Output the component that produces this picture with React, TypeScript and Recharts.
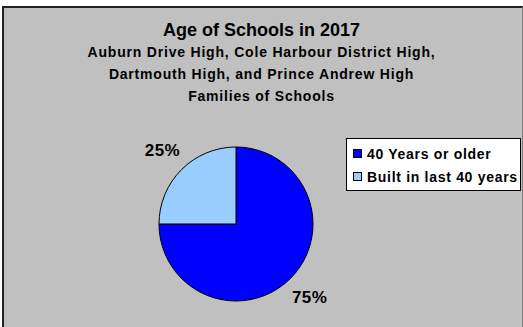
import { PieChart, Pie, Cell, Legend } from 'recharts';

const categories = ['40 Years or older', 'Built in last 40 years'];
const shares = [75, 25];
const colors = ['#0000ff', '#99ccff'];
const titleLines = [
  'Auburn Drive High, Cole Harbour District High,',
  'Dartmouth High, and Prince Andrew High',
  'Families of Schools',
];

const data = categories.map((name, i) => ({ name, value: shares[i] }));

const FONT = '"Liberation Sans", Arial, sans-serif';
const RAD = Math.PI / 180;

const renderLabel = (props: any) => {
  const { cx, cy, midAngle, outerRadius, value } = props;
  const r = outerRadius + 27;
  const x = cx + r * Math.cos(-midAngle * RAD);
  const y = cy + r * Math.sin(-midAngle * RAD);
  return (
    <text x={x} y={y} textAnchor="middle" dominantBaseline="central" fontFamily={FONT} fontWeight="bold" fontSize={17} letterSpacing={0.4} fill="#000">
      {value}%
    </text>
  );
};

const LegendBox = () => (
  <div style={{ background: '#fff', border: '1px solid #000', width: 175, height: 53, boxSizing: 'border-box', padding: '3px 0 0 6px', fontFamily: FONT, fontWeight: 'bold', fontSize: 14, letterSpacing: 0.7 }}>
    {categories.map((c, i) => (
      <div key={c} style={{ display: 'flex', alignItems: 'center', height: 23 }}>
        <span style={{ display: 'inline-block', width: 7, height: 7, background: colors[i], border: '1px solid #000', marginRight: 5 }} />
        <span>{c}</span>
      </div>
    ))}
  </div>
);

export default function App() {
  return (
    <div style={{ position: 'absolute', left: 0, top: 0, width: 523, height: 327, background: '#fff', overflow: 'hidden' }}>
      <div style={{ position: 'absolute', left: 2, top: 6, width: 518, height: 340, background: '#c0c0c0', borderLeft: '2px solid #222', borderTop: '2px solid #222', borderRight: '1px solid #808080' }} />
      <div style={{ position: 'absolute', left: 0, top: 0, width: 523, textAlign: 'center', fontFamily: FONT, fontWeight: 'bold' }}>
        <div style={{ position: 'absolute', left: 0, top: 20, width: 523, fontSize: 18 }}>Age of Schools in 2017</div>
        {titleLines.map((t, i) => (
          <div key={t} style={{ position: 'absolute', left: 0, top: 44 + i * 22, width: 523, fontSize: 14, letterSpacing: 0.8 }}>{t}</div>
        ))}
      </div>
      <div style={{ position: 'absolute', left: 0, top: 0 }}>
        <PieChart width={523} height={327}>
          <Pie
            data={data}
            dataKey="value"
            nameKey="name"
            cx={231}
            cy={219}
            outerRadius={77}
            startAngle={90}
            endAngle={-270}
            stroke="#000"
            strokeWidth={1}
            label={renderLabel}
            labelLine={false}
            isAnimationActive={false}
          >
            {data.map((d, i) => (
              <Cell key={d.name} fill={colors[i]} />
            ))}
          </Pie>
          <Legend content={<LegendBox />} wrapperStyle={{ position: 'absolute', left: 346, top: 138, width: 175 }} />
        </PieChart>
      </div>
    </div>
  );
}
